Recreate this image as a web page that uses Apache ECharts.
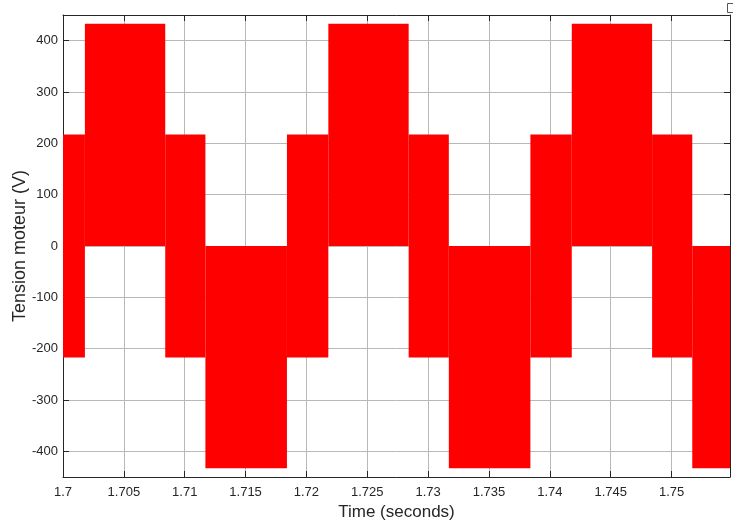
<!DOCTYPE html>
<html>
<head>
<meta charset="utf-8">
<script src="https://cdn.jsdelivr.net/npm/echarts@6/dist/echarts.min.js"></script>
<style>
html,body{margin:0;padding:0;background:#fff;}
#chart{width:733px;height:523px;}
</style>
</head>
<body>
<div id="chart"></div>
<script>
// PWM motor voltage: each segment is a band the signal switches within
const segStart = [1.7, 1.7018, 1.7084, 1.7117, 1.7184, 1.7218, 1.7284, 1.7317, 1.7384, 1.7418, 1.7484, 1.7517];
const segEnd   = [1.7018, 1.7084, 1.7117, 1.7184, 1.7218, 1.7284, 1.7317, 1.7384, 1.7418, 1.7484, 1.7517, 1.7548];
const segLow   = [-217, 0, -217, -433, -217, 0, -217, -433, -217, 0, -217, -433];
const segHigh  = [217, 433, 217, 0, 217, 433, 217, 0, 217, 433, 217, 0];

const xTickLabels = ['1.7','1.705','1.71','1.715','1.72','1.725','1.73','1.735','1.74','1.745','1.75'];
const yTickLabels = ['-400','-300','-200','-100','0','100','200','300','400'];

const xMin = 1.7, xMax = 1.7548, xStep = 0.005;
const yMin = -450, yMax = 450;

const data = segStart.map((s, i) => [s, segEnd[i], segLow[i], segHigh[i]]);

const font = 'Liberation Sans, Arial, Helvetica, sans-serif';
const axisColor = '#262626';
const gridColor = '#b8b8b8';

const chart = echarts.init(document.getElementById('chart'), null, {renderer: 'canvas'});

const xLabelFmt = v => {
  const i = Math.round((v - xMin) / xStep);
  return Math.abs(v - (xMin + i * xStep)) < 1e-6 && xTickLabels[i] !== undefined ? xTickLabels[i] : '';
};
const yLabelFmt = v => {
  const i = Math.round((v + 400) / 100);
  return Math.abs(v - (-400 + i * 100)) < 1e-6 && yTickLabels[i] !== undefined ? yTickLabels[i] : '';
};

chart.setOption({
  animation: false,
  backgroundColor: '#ffffff',
  grid: {left: 63, right: 3, top: 15, bottom: 46, show: false, containLabel: false, outerBoundsMode: 'none'},
  xAxis: [{
    type: 'value', min: xMin, max: xMax, interval: xStep, position: 'bottom',
    name: 'Time (seconds)', nameLocation: 'middle', nameGap: 27,
    nameTextStyle: {fontFamily: font, fontSize: 17, color: axisColor},
    axisLine: {show: true, onZero: false, lineStyle: {color: axisColor, width: 1}},
    axisTick: {show: true, inside: true, length: 6, lineStyle: {color: axisColor}},
    axisLabel: {show: true, margin: 9, fontFamily: font, fontSize: 13, color: axisColor,
      formatter: xLabelFmt, showMaxLabel: false},
    splitLine: {show: true, lineStyle: {color: gridColor, width: 1}}
  }, {
    type: 'value', min: xMin, max: xMax, interval: xStep, position: 'top',
    axisLine: {show: true, onZero: false, lineStyle: {color: axisColor, width: 1}},
    axisTick: {show: true, inside: true, length: 6, lineStyle: {color: axisColor}},
    axisLabel: {show: false},
    splitLine: {show: false}
  }],
  yAxis: [{
    type: 'value', min: yMin, max: yMax, splitNumber: 9, position: 'left',
    name: 'Tension moteur (V)', nameLocation: 'middle', nameGap: 34, nameMoveOverlap: false,
    nameTextStyle: {fontFamily: font, fontSize: 18, color: axisColor},
    axisLine: {show: true, onZero: false, lineStyle: {color: axisColor, width: 1}},
    axisTick: {show: true, inside: true, length: 6, lineStyle: {color: axisColor}},
    axisLabel: {show: true, margin: 5, fontFamily: font, fontSize: 13, color: axisColor,
      formatter: yLabelFmt, showMinLabel: false, showMaxLabel: false},
    splitLine: {show: true, lineStyle: {color: gridColor, width: 1}}
  }, {
    type: 'value', min: yMin, max: yMax, splitNumber: 9, position: 'right',
    axisLine: {show: true, onZero: false, lineStyle: {color: axisColor, width: 1}},
    axisTick: {show: true, inside: true, length: 6, lineStyle: {color: axisColor}},
    axisLabel: {show: false},
    splitLine: {show: false}
  }],
  series: [{
    type: 'custom',
    xAxisIndex: 0, yAxisIndex: 0,
    clip: true,
    encode: {x: [0, 1], y: [2, 3]},
    data: data,
    renderItem: function (params, api) {
      const p1 = api.coord([api.value(0), api.value(3)]);
      const p2 = api.coord([api.value(1), api.value(2)]);
      return {
        type: 'rect',
        shape: {x: p1[0], y: p1[1], width: p2[0] - p1[0], height: p2[1] - p1[1]},
        style: {fill: '#ff0000', stroke: null}
      };
    }
  }],
  graphic: [{
    type: 'rect', left: 727, top: 3,
    shape: {width: 6, height: 9},
    style: {fill: '#fff', stroke: '#555', lineWidth: 1}
  }]
});
</script>
</body>
</html>
